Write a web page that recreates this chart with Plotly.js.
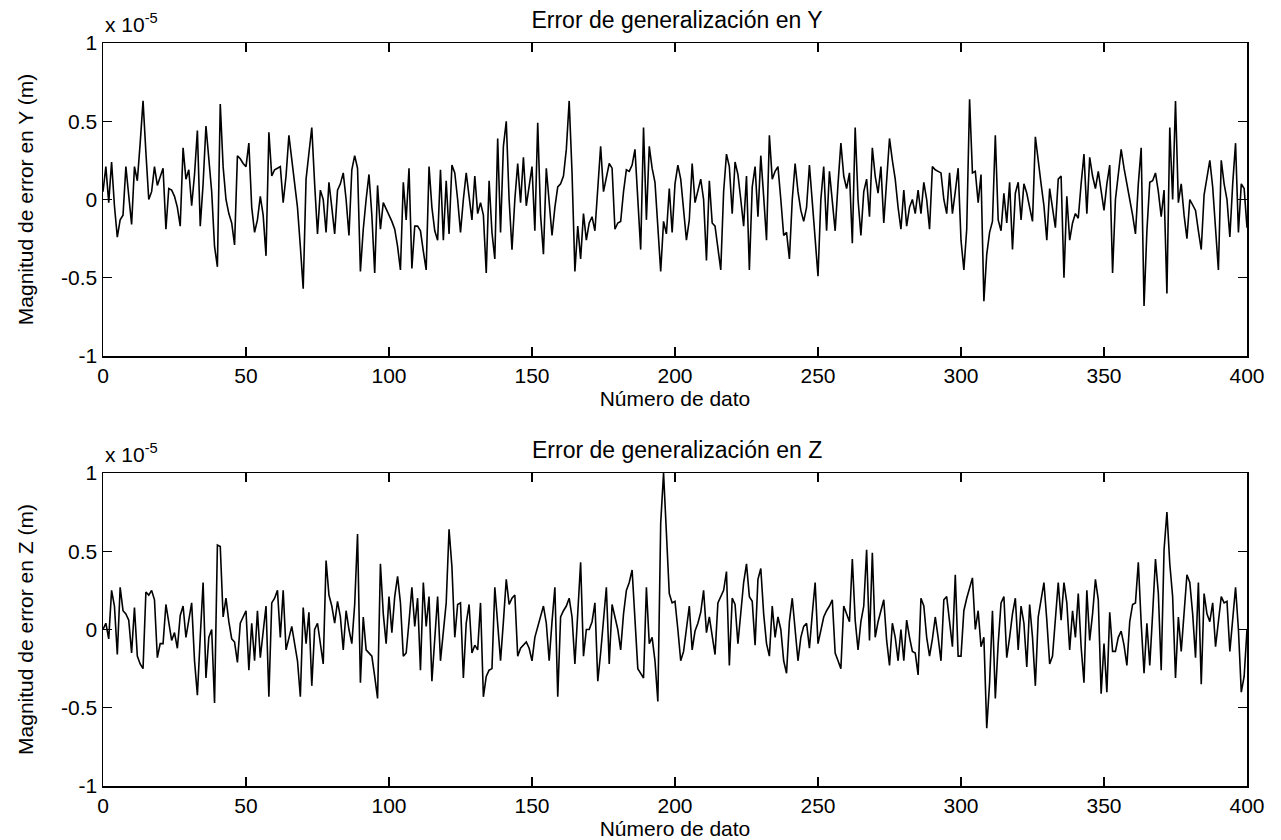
<!DOCTYPE html>
<html>
<head>
<meta charset="utf-8">
<script src="https://cdn.plot.ly/plotly-3.0.1.min.js"></script>
<style>html,body{margin:0;padding:0;background:#fff;}#chart{width:1281px;height:840px;}</style>
</head>
<body>
<div id="chart"></div>
<script>
// Data values are in units of 1e-5 m (axis shows "x 10^-5")
const titleY = "Error de generalización en Y";
const titleZ = "Error de generalización en Z";
const xLabel = "Número de dato";
const yLabelY = "Magnitud de error en Y (m)";
const yLabelZ = "Magnitud de error en Z (m)";
const xTicks = [0, 50, 100, 150, 200, 250, 300, 350, 400];
const yTicks = [-1, -0.5, 0, 0.5, 1];
const yTickText = ["-1", "-0.5", "0", "0.5", "1"];

const errY = [
 0.05,0.21,-0.02,0.24,-0.04,-0.24,-0.13,-0.10,0.21,0.02,
 -0.16,0.21,0.12,0.36,0.63,0.30,0.00,0.05,0.21,0.09,
 0.14,0.20,-0.19,0.07,0.06,0.02,-0.05,-0.17,0.33,0.13,
 0.19,-0.04,0.16,0.44,-0.17,0.10,0.47,0.28,0.05,-0.30,
 -0.43,0.61,0.21,0.00,-0.09,-0.15,-0.29,0.28,0.26,0.23,
 0.21,0.36,-0.05,-0.21,-0.13,0.02,-0.10,-0.36,0.43,0.15,
 0.19,0.20,0.21,-0.02,0.15,0.41,0.25,0.09,-0.05,-0.30,
 -0.57,0.13,0.30,0.46,0.10,-0.22,0.06,0.00,-0.21,0.11,
 -0.05,-0.22,0.06,0.10,0.17,0.00,-0.23,0.19,0.28,0.20,
 -0.46,-0.19,0.00,0.16,-0.10,-0.47,0.09,-0.19,-0.02,-0.06,
 -0.09,-0.14,-0.19,-0.30,-0.45,0.11,-0.13,0.20,-0.44,-0.17,
 -0.17,-0.20,-0.33,-0.45,0.21,-0.05,-0.20,-0.26,0.19,-0.26,
 0.12,-0.22,0.22,0.17,0.00,-0.21,0.00,0.17,0.02,-0.13,
 0.15,-0.09,-0.02,-0.10,-0.47,0.12,-0.21,-0.38,0.39,-0.21,
 0.34,0.50,0.00,-0.32,0.00,0.23,-0.02,0.27,-0.04,0.10,
 0.21,-0.20,0.49,-0.10,-0.35,0.20,0.00,-0.23,-0.05,0.08,
 0.10,0.15,0.32,0.63,0.17,-0.46,-0.17,-0.38,-0.09,-0.26,
 -0.15,-0.11,-0.20,0.05,0.34,0.05,0.15,0.23,0.20,-0.19,
 -0.15,-0.14,0.05,0.19,0.18,0.22,0.32,0.00,-0.32,0.46,
 -0.13,0.34,0.20,0.11,-0.20,-0.46,-0.14,-0.22,0.07,-0.21,
 0.10,0.22,0.13,-0.05,-0.26,-0.13,0.23,-0.02,0.05,0.13,
 0.00,-0.39,0.12,-0.15,-0.17,-0.30,-0.45,0.05,0.29,0.21,
 -0.09,0.24,0.16,0.00,-0.17,0.15,-0.45,0.08,0.21,-0.11,
 0.28,0.02,-0.26,0.41,0.13,0.18,0.21,0.00,-0.23,-0.21,
 -0.38,0.00,0.23,0.05,-0.07,-0.14,-0.05,0.22,-0.04,-0.25,
 -0.49,0.00,0.21,-0.20,0.18,-0.02,-0.20,0.10,0.36,0.15,
 0.07,0.17,-0.28,0.46,0.00,-0.23,0.05,0.13,-0.11,0.33,
 0.15,0.04,0.21,-0.15,0.13,0.39,0.25,0.13,-0.05,-0.19,
 0.06,-0.17,-0.05,0.00,-0.09,0.06,-0.09,0.11,0.00,-0.19,
 0.21,0.19,0.18,0.17,0.00,-0.09,0.17,-0.09,0.05,0.20,
 -0.26,-0.45,-0.19,0.64,0.17,0.18,-0.02,0.16,-0.65,-0.35,
 -0.21,-0.14,0.41,-0.13,-0.20,0.04,-0.15,0.11,-0.32,0.04,
 0.11,-0.13,0.10,0.04,-0.05,-0.14,0.40,0.23,0.10,-0.04,
 -0.26,0.07,-0.05,-0.18,0.13,0.15,-0.50,0.02,-0.26,-0.15,
 -0.09,-0.12,0.10,0.29,-0.09,0.27,0.15,0.07,0.18,0.05,
 -0.07,0.10,0.22,-0.47,0.00,0.16,0.32,0.20,0.11,0.00,
 -0.10,-0.22,0.10,0.33,-0.68,-0.20,0.11,0.12,0.17,0.05,
 -0.11,0.06,-0.60,0.46,0.00,0.63,-0.02,0.10,-0.10,-0.25,
 0.00,-0.04,-0.07,-0.20,-0.32,0.03,0.15,0.25,0.08,-0.20,
 -0.45,0.25,0.10,0.00,-0.24,0.10,0.36,-0.21,0.10,0.07,
 -0.18
];

const errZ = [
 0.00,0.04,-0.06,0.25,0.15,-0.16,0.27,0.12,0.10,0.06,
 -0.15,0.14,-0.17,-0.22,-0.25,0.24,0.22,0.25,0.19,-0.18,
 -0.09,-0.09,0.16,0.04,-0.07,-0.02,-0.12,0.09,0.15,-0.05,
 0.06,0.17,-0.20,-0.42,-0.05,0.30,-0.31,-0.05,0.00,-0.47,
 0.54,0.53,0.08,0.20,0.05,-0.06,-0.08,-0.21,0.04,0.08,
 0.12,-0.26,0.04,-0.20,0.12,-0.18,0.00,0.15,-0.43,0.17,
 0.20,0.25,-0.05,0.25,-0.13,-0.05,0.02,-0.09,-0.20,-0.43,
 0.14,-0.09,0.11,-0.36,0.00,0.04,-0.10,-0.22,0.44,0.22,
 0.15,0.04,0.18,0.08,-0.13,0.12,0.00,-0.09,0.16,0.61,
 -0.34,0.08,-0.13,-0.15,-0.17,-0.30,-0.44,0.42,0.10,-0.09,
 0.21,-0.02,0.21,0.34,0.17,-0.17,-0.15,0.05,0.27,0.02,
 0.20,-0.26,0.30,0.02,0.21,-0.33,-0.09,0.21,-0.20,0.00,
 0.17,0.64,0.40,-0.05,0.16,0.17,-0.31,0.04,0.16,-0.15,
 -0.10,-0.13,0.17,-0.43,-0.30,-0.26,-0.25,0.27,0.05,-0.20,
 0.05,0.32,0.16,0.20,0.22,-0.17,-0.12,-0.10,-0.08,-0.12,
 -0.20,-0.05,0.02,0.08,0.15,0.04,-0.20,0.05,0.27,-0.43,
 0.08,0.12,0.15,0.20,0.08,-0.22,0.10,0.43,-0.17,0.00,
 0.00,0.05,0.17,-0.33,-0.15,0.05,0.27,-0.22,0.16,0.08,
 0.00,-0.13,0.10,0.25,0.30,0.38,0.08,-0.25,-0.28,-0.31,
 0.27,-0.09,-0.05,-0.20,-0.46,0.68,1.00,0.59,0.23,0.17,
 0.18,0.00,-0.20,-0.14,0.00,0.15,-0.13,-0.01,0.04,0.11,
 0.25,-0.02,0.08,-0.03,-0.16,0.17,0.21,0.25,0.37,-0.23,
 0.20,0.16,-0.09,0.11,0.30,0.42,0.21,0.18,-0.10,0.32,
 0.39,0.10,-0.09,-0.17,0.15,-0.05,0.08,0.00,-0.20,-0.28,
 0.05,0.20,0.00,-0.20,-0.05,0.02,0.04,-0.12,0.10,0.30,
 -0.09,0.00,0.08,0.12,0.15,0.19,-0.15,-0.20,-0.25,0.15,
 0.10,0.05,0.45,0.06,-0.13,0.05,0.15,0.51,-0.07,0.49,
 -0.05,0.05,0.12,0.19,-0.07,-0.23,0.04,-0.05,-0.20,0.00,
 -0.20,0.06,-0.05,-0.14,-0.15,-0.29,0.20,0.15,-0.05,-0.17,
 -0.06,0.08,-0.05,-0.20,0.19,0.21,0.05,-0.11,0.35,-0.17,
 -0.17,0.12,0.20,0.27,0.33,0.00,0.12,-0.11,-0.05,-0.63,
 -0.34,0.12,-0.44,-0.09,0.17,0.21,-0.18,-0.05,0.10,0.20,
 -0.13,0.15,0.04,-0.24,0.16,-0.05,-0.36,0.08,0.20,0.30,
 0.06,-0.22,-0.17,0.10,0.30,0.06,0.30,0.17,-0.13,0.12,
 -0.05,0.23,-0.11,-0.34,0.25,-0.07,0.10,0.32,0.19,-0.41,
 -0.09,-0.40,0.11,-0.14,-0.14,-0.05,-0.01,-0.10,-0.23,0.05,
 0.16,0.17,0.43,0.04,-0.28,0.04,-0.23,0.10,0.45,0.23,
 -0.26,0.51,0.75,0.42,0.21,-0.31,0.08,-0.14,0.10,0.35,
 0.30,0.10,-0.18,0.30,-0.35,0.23,0.10,0.05,0.17,-0.11,
 0.05,0.21,0.17,0.18,-0.14,0.05,0.27,0.00,-0.40,-0.30,
 0.00
];

const FONT = "Liberation Sans, Arial, Helvetica, sans-serif";
const fsTick = 21;
const fsTitle = 23;
const fsLabel = 21;
const W = 1281, H = 840;
const xDom = [103 / W, 1247 / W];
const y1Dom = [(H - 356) / H, (H - 43) / H];
const y2Dom = [(H - 786) / H, (H - 473) / H];

const lineStyle = {color: "#000", width: 1.6};

const traces = [
  {type: "scatter", mode: "lines", x0: 0, dx: 1, y: errY, line: lineStyle, xaxis: "x", yaxis: "y", hoverinfo: "x+y", name: "Y"},
  {type: "scatter", mode: "lines", x0: 0, dx: 1, y: errZ, line: lineStyle, xaxis: "x2", yaxis: "y2", hoverinfo: "x+y", name: "Z"}
];

function xAxis(dom, anchor) {
  return {
    domain: dom, anchor: anchor, range: [0, 400], tickvals: xTicks, ticktext: xTicks.map(String),
    ticks: "inside", ticklen: 9, tickwidth: 1.2, tickcolor: "#000",
    showline: true, linecolor: "#000", linewidth: 1.5, mirror: "ticks",
    showgrid: false, zeroline: false, fixedrange: true,
    tickfont: {family: FONT, size: fsTick, color: "#000"},
    title: {text: xLabel, font: {family: FONT, size: fsLabel, color: "#000"}, standoff: 4}
  };
}
function yAxis(dom, anchor, label) {
  return {
    domain: dom, anchor: anchor, range: [-1, 1], tickvals: yTicks, ticktext: yTickText,
    ticks: "inside", ticklen: 9, tickwidth: 1.2, tickcolor: "#000",
    showline: true, linecolor: "#000", linewidth: 1.5, mirror: "ticks",
    showgrid: false, zeroline: false, fixedrange: true,
    tickfont: {family: FONT, size: fsTick, color: "#000"},
    title: {text: label, font: {family: FONT, size: fsLabel, color: "#000"}, standoff: 22}
  };
}

const layout = {
  width: W, height: H,
  margin: {l: 0, r: 0, t: 0, b: 0, pad: 0},
  paper_bgcolor: "#fff", plot_bgcolor: "#fff",
  showlegend: false,
  font: {family: FONT, size: fsTick, color: "#000"},
  title: {text: titleY, x: 677 / W, xanchor: "center", xref: "paper", y: 1 - 20 / H, yanchor: "middle", yref: "paper",
          font: {family: FONT, size: fsTitle, color: "#000"}},
  xaxis: xAxis(xDom, "y"),
  yaxis: yAxis(y1Dom, "x", yLabelY),
  xaxis2: xAxis(xDom, "y2"),
  yaxis2: yAxis(y2Dom, "x2", yLabelZ),
  annotations: [
    {text: titleZ, xref: "paper", yref: "paper", x: 677 / W, y: 1 - 450 / H, xanchor: "center", yanchor: "middle",
     showarrow: false, font: {family: FONT, size: fsTitle, color: "#000"}},
    {text: "x 10<sup>-5</sup>", xref: "paper", yref: "paper", x: 103 / W, y: 1 - 38 / H, xanchor: "left", yanchor: "bottom",
     showarrow: false, font: {family: FONT, size: fsTick, color: "#000"}},
    {text: "x 10<sup>-5</sup>", xref: "paper", yref: "paper", x: 103 / W, y: 1 - 468 / H, xanchor: "left", yanchor: "bottom",
     showarrow: false, font: {family: FONT, size: fsTick, color: "#000"}}
  ]
};

Plotly.newPlot("chart", traces, layout, {displayModeBar: false, staticPlot: true});
</script>
</body>
</html>
